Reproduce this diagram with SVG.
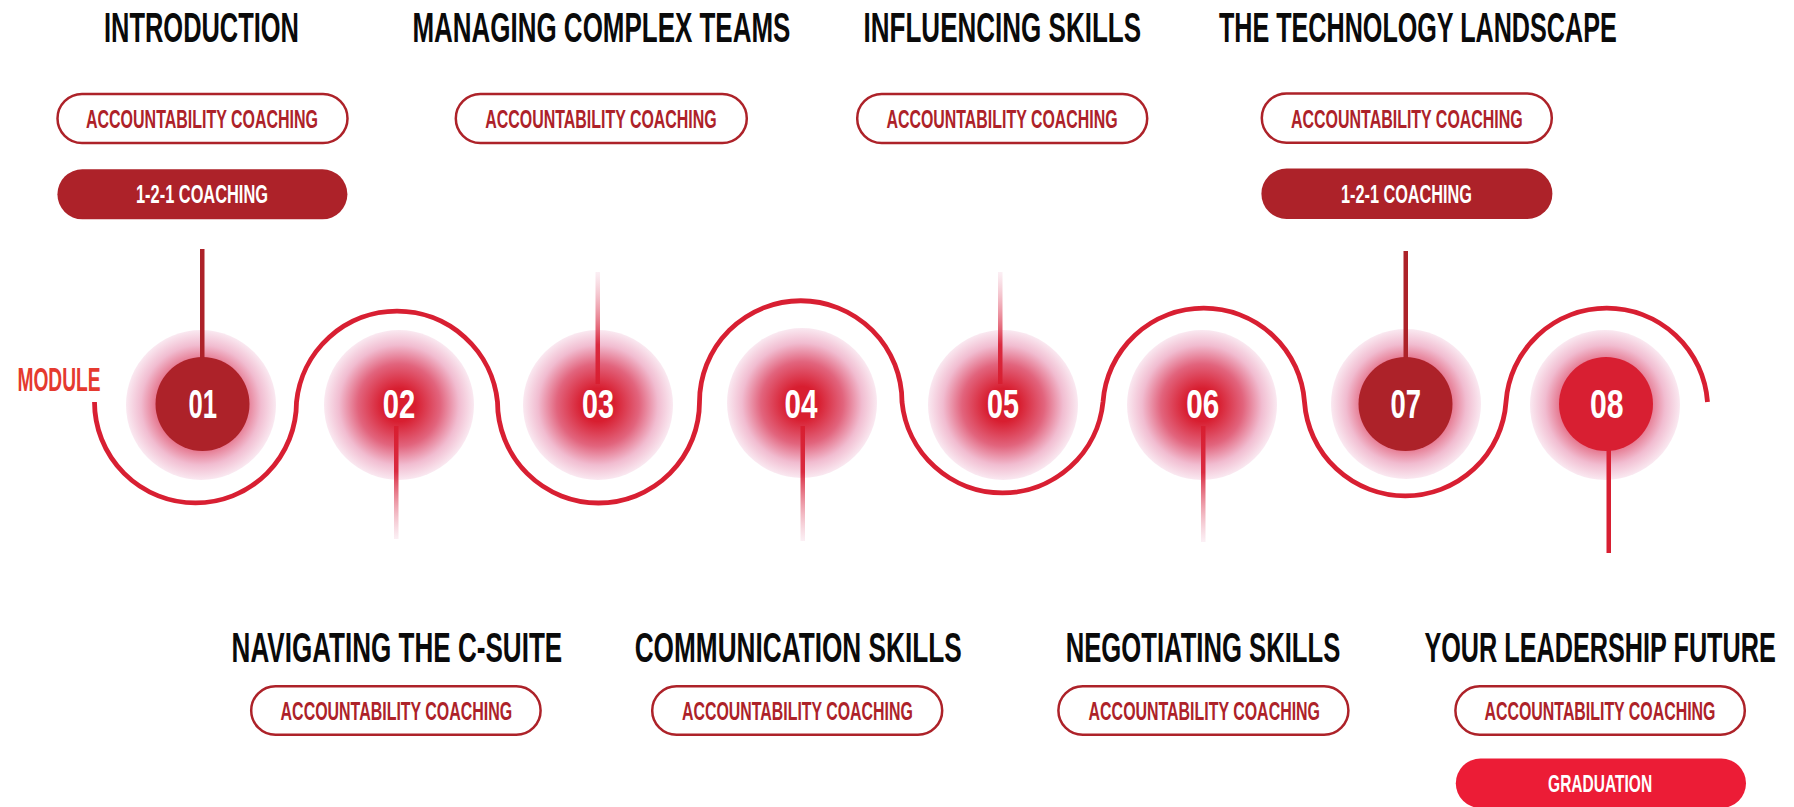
<svg xmlns="http://www.w3.org/2000/svg" width="1794" height="807" viewBox="0 0 1794 807">
<style>
text{font-family:"Liberation Sans",Arial,sans-serif;font-weight:700;text-anchor:middle;}
.title{font-size:42px;fill:#0a0a0a;}
.pt{font-size:25.5px;fill:#ad2229;}
.pw{font-size:25.5px;fill:#ffffff;}
.num{font-size:40px;fill:#ffffff;}
.pill{fill:#ffffff;stroke:#ad2229;stroke-width:2.5;}
.pillf{fill:#ad2229;}
.glow{fill:url(#glow);}
.wave{fill:none;stroke:#d81f32;stroke-width:4.8;}
.down{fill:url(#fadeDown);}
.up{fill:url(#fadeUp);}
</style>
<defs>
<radialGradient id="glow" cx="0.5" cy="0.5" r="0.5">
<stop offset="0" stop-color="#d81e30"/>
<stop offset="0.22" stop-color="#d81e30"/>
<stop offset="0.55" stop-color="#e2647d"/>
<stop offset="0.8" stop-color="#f1bcd0"/>
<stop offset="1" stop-color="#fae9f1"/>
</radialGradient>
<linearGradient id="fadeDown" x1="0" y1="0" x2="0" y2="1">
<stop offset="0" stop-color="#d81e30"/>
<stop offset="0.4" stop-color="#da2a40"/>
<stop offset="1" stop-color="#f8e0ea" stop-opacity="0.5"/>
</linearGradient>
<linearGradient id="fadeUp" x1="0" y1="1" x2="0" y2="0">
<stop offset="0" stop-color="#d81e30"/>
<stop offset="0.35" stop-color="#da2a40"/>
<stop offset="1" stop-color="#f8e0ea" stop-opacity="0.5"/>
</linearGradient>
</defs>
<rect width="1794" height="807" fill="#ffffff"/>

<g id="glows">
<circle class="glow" cx="201" cy="405" r="75"/>
<circle class="glow" cx="399" cy="405" r="75"/>
<circle class="glow" cx="598" cy="405" r="75"/>
<circle class="glow" cx="802" cy="403" r="75"/>
<circle class="glow" cx="1003" cy="405" r="75"/>
<circle class="glow" cx="1202" cy="405" r="75"/>
<circle class="glow" cx="1406" cy="404" r="75"/>
<circle class="glow" cx="1605" cy="405" r="75"/>
</g>

<g id="connectors">
<path class="wave" d="M94.5,402 A101,101 0 0 0 296.5,402 A101,101 0 0 1 497.5,402 A101,101 0 0 0 699.5,402 A101,101 0 0 1 902,402 A101,101 0 0 0 1103,402 A101,101 0 0 1 1304.5,402 A101,101 0 0 0 1506,402 A101,101 0 0 1 1707.5,402"/>
<rect x="200" y="249" width="4.5" height="112" fill="#ad2229"/>
<rect x="1403.5" y="251" width="4.5" height="110" fill="#ad2229"/>
<rect x="1606.5" y="445" width="4.5" height="108" fill="#d81f32"/>
<rect class="down" x="394" y="426" width="4.5" height="113"/>
<rect class="down" x="800.5" y="426" width="4.5" height="115"/>
<rect class="down" x="1201" y="426" width="4.5" height="116"/>
<rect class="up" x="595.5" y="272" width="4.5" height="112"/>
<rect class="up" x="998" y="272" width="4.5" height="112"/>
</g>

<text x="59" y="390.7" style="font-size:32.5px;fill:#e53a2f;" textLength="83" lengthAdjust="spacingAndGlyphs">MODULE</text>

<g id="m01">
<text class="title" x="201.5" y="41.7" textLength="195" lengthAdjust="spacingAndGlyphs">INTRODUCTION</text>
<rect class="pill" x="57.5" y="94" width="290" height="49" rx="24.5"/>
<text class="pt" x="202" y="128.3" textLength="232" lengthAdjust="spacingAndGlyphs">ACCOUNTABILITY COACHING</text>
<rect class="pillf" x="57.4" y="169.3" width="290" height="50" rx="25"/>
<text class="pw" x="202" y="203.3" textLength="132" lengthAdjust="spacingAndGlyphs">1-2-1 COACHING</text>
<circle cx="202.5" cy="404" r="47" fill="#ad2229"/>
<text class="num" x="202.8" y="418.3" textLength="28.5" lengthAdjust="spacingAndGlyphs">01</text>
</g>

<g id="m02">
<text class="num" x="399" y="418.3" textLength="32.5" lengthAdjust="spacingAndGlyphs">02</text>
<text class="title" x="396.9" y="661.7" textLength="330.6" lengthAdjust="spacingAndGlyphs">NAVIGATING THE C-SUITE</text>
<rect class="pill" x="251.2" y="686.2" width="289.4" height="48.6" rx="24.3"/>
<text class="pt" x="396.4" y="720" textLength="231.6" lengthAdjust="spacingAndGlyphs">ACCOUNTABILITY COACHING</text>
</g>

<g id="m03">
<text class="title" x="601.4" y="41.7" textLength="378" lengthAdjust="spacingAndGlyphs">MANAGING COMPLEX TEAMS</text>
<rect class="pill" x="455.8" y="94" width="291" height="49" rx="24.5"/>
<text class="pt" x="601" y="128.3" textLength="231.3" lengthAdjust="spacingAndGlyphs">ACCOUNTABILITY COACHING</text>
<text class="num" x="597.9" y="418.3" textLength="32" lengthAdjust="spacingAndGlyphs">03</text>
</g>

<g id="m04">
<text class="num" x="801" y="418.3" textLength="33" lengthAdjust="spacingAndGlyphs">04</text>
<text class="title" x="798.2" y="661.7" textLength="327" lengthAdjust="spacingAndGlyphs">COMMUNICATION SKILLS</text>
<rect class="pill" x="652.2" y="686.2" width="290" height="48.6" rx="24.3"/>
<text class="pt" x="797.4" y="720" textLength="230.8" lengthAdjust="spacingAndGlyphs">ACCOUNTABILITY COACHING</text>
</g>

<g id="m05">
<text class="title" x="1002.3" y="41.7" textLength="277.5" lengthAdjust="spacingAndGlyphs">INFLUENCING SKILLS</text>
<rect class="pill" x="857.2" y="94" width="290" height="49" rx="24.5"/>
<text class="pt" x="1002" y="128.3" textLength="231.2" lengthAdjust="spacingAndGlyphs">ACCOUNTABILITY COACHING</text>
<text class="num" x="1003" y="418.3" textLength="32" lengthAdjust="spacingAndGlyphs">05</text>
</g>

<g id="m06">
<text class="num" x="1202.7" y="418.3" textLength="33" lengthAdjust="spacingAndGlyphs">06</text>
<text class="title" x="1203" y="661.7" textLength="274.5" lengthAdjust="spacingAndGlyphs">NEGOTIATING SKILLS</text>
<rect class="pill" x="1058.4" y="686.2" width="290" height="48.6" rx="24.3"/>
<text class="pt" x="1204.3" y="720" textLength="231.4" lengthAdjust="spacingAndGlyphs">ACCOUNTABILITY COACHING</text>
</g>

<g id="m07">
<text class="title" x="1417.8" y="41.7" textLength="397.8" lengthAdjust="spacingAndGlyphs">THE TECHNOLOGY LANDSCAPE</text>
<rect class="pill" x="1261.8" y="93.5" width="290" height="49.2" rx="24.6"/>
<text class="pt" x="1406.9" y="128" textLength="231.7" lengthAdjust="spacingAndGlyphs">ACCOUNTABILITY COACHING</text>
<rect class="pillf" x="1261.4" y="168.5" width="291" height="50.5" rx="25.2"/>
<text class="pw" x="1406.5" y="202.8" textLength="131" lengthAdjust="spacingAndGlyphs">1-2-1 COACHING</text>
<circle cx="1405.5" cy="404" r="47" fill="#ad2229"/>
<text class="num" x="1405.8" y="418.3" textLength="30.5" lengthAdjust="spacingAndGlyphs">07</text>
</g>

<g id="m08">
<circle cx="1606" cy="404" r="47" fill="#d81f32"/>
<text class="num" x="1606.8" y="418.3" textLength="33.6" lengthAdjust="spacingAndGlyphs">08</text>
<text class="title" x="1600.1" y="661.7" textLength="351.4" lengthAdjust="spacingAndGlyphs">YOUR LEADERSHIP FUTURE</text>
<rect class="pill" x="1455.4" y="686.2" width="289.4" height="48.6" rx="24.3"/>
<text class="pt" x="1600" y="720" textLength="230.9" lengthAdjust="spacingAndGlyphs">ACCOUNTABILITY COACHING</text>
<rect x="1455.8" y="758.5" width="290.2" height="49.5" rx="24.7" fill="#ec1c36"/>
<text class="pw" x="1600.1" y="791.7" style="font-size:24px;" textLength="104" lengthAdjust="spacingAndGlyphs">GRADUATION</text>
</g>
</svg>
